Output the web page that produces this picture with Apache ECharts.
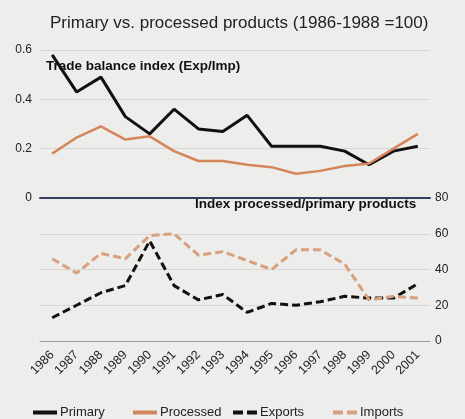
<!DOCTYPE html>
<html>
<head>
<meta charset="utf-8">
<script src="https://cdn.jsdelivr.net/npm/echarts@6/dist/echarts.min.js"></script>
<style>
  html, body { margin: 0; padding: 0; background: #ededeb; }
  #chart { width: 465px; height: 419px; }
</style>
</head>
<body>
<div id="chart"></div>
<script>
var years = ['1986','1987','1988','1989','1990','1991','1992','1993','1994','1995','1996','1997','1998','1999','2000','2001'];
// trade balance index (Exp/Imp)
var primary   = [0.58, 0.43, 0.49, 0.33, 0.26, 0.36, 0.28, 0.27, 0.335, 0.21, 0.21, 0.21, 0.19, 0.135, 0.19, 0.21];
var processed = [0.18, 0.245, 0.29, 0.237, 0.25, 0.19, 0.15, 0.15, 0.135, 0.125, 0.098, 0.11, 0.13, 0.14, 0.2, 0.26];
// index processed/primary products
var exportsIdx = [13, 20, 27, 31, 56, 31, 23, 26, 16, 21, 20, 22, 25, 24, 24, 32];
var importsIdx = [46, 38, 49, 46, 59, 60, 48, 50, 45, 40, 51, 51, 43, 23, 25, 24];

var chartDom = document.getElementById('chart');
var myChart = echarts.init(chartDom);
var font = 'Liberation Sans, Arial, sans-serif';

var solidIcon = 'path://M0,0h24v4h-24z';
var dashIcon = 'path://M0,0h10v4h-10zM14,0h10v4h-10z';

function legendAt(name, x, icon) {
  return {
    data: [{ name: name, icon: icon }],
    left: x, top: 401,
    itemWidth: 24, itemHeight: 4, itemGap: 0,
    textStyle: { fontSize: 13, color: '#222', fontFamily: font, padding: [0, 0, 0, -2] }
  };
}

var option = {
  backgroundColor: '#ededeb',
  textStyle: { fontFamily: font },
  title: {
    text: 'Primary vs. processed products (1986-1988 =100)',
    left: 45,
    top: 10,
    textStyle: { fontSize: 17, fontWeight: 'normal', color: '#222', fontFamily: font }
  },
  graphic: [
    { type: 'text', left: 46, top: 59, style: { text: 'Trade balance index (Exp/Imp)', font: 'bold 13.5px ' + font, fill: '#111' } },
    { type: 'text', left: 195, top: 197, style: { text: 'Index processed/primary products', font: 'bold 13.5px ' + font, fill: '#111' } }
  ],
  legend: [
    legendAt('Primary', 28, solidIcon),
    legendAt('Processed', 128, solidIcon),
    legendAt('Exports', 228, dashIcon),
    legendAt('Imports', 328, dashIcon)
  ],
  grid: [
    { left: 40, right: 35, top: 50, height: 148 },
    { left: 40, right: 35, top: 198, height: 143 }
  ],
  xAxis: [
    { type: 'category', gridIndex: 0, data: years, boundaryGap: true,
      axisLine: { lineStyle: { color: '#33415e', width: 2 } },
      axisTick: { show: false }, axisLabel: { show: false } },
    { type: 'category', gridIndex: 1, data: years, boundaryGap: true,
      axisLine: { lineStyle: { color: '#9a9a9a', width: 1 } },
      axisTick: { show: false },
      axisLabel: { rotate: 45, fontSize: 12.5, color: '#222', interval: 0, margin: 12 } }
  ],
  yAxis: [
    { type: 'value', gridIndex: 0, position: 'left', min: 0, max: 0.6, interval: 0.2,
      axisLine: { show: false }, axisTick: { show: false },
      axisLabel: { color: '#222', fontSize: 12, formatter: function (v) { return v === 0 ? '0' : v.toFixed(1); } },
      splitLine: { lineStyle: { color: '#d6d6d4' } } },
    { type: 'value', gridIndex: 1, position: 'right', min: 0, max: 80, interval: 20,
      axisLine: { show: false }, axisTick: { show: false },
      axisLabel: { color: '#222', fontSize: 12, margin: 5 },
      splitLine: { lineStyle: { color: '#d6d6d4' } } }
  ],
  series: [
    { name: 'Primary', type: 'line', xAxisIndex: 0, yAxisIndex: 0, data: primary,
      symbol: 'none', lineStyle: { color: '#111', width: 3 }, itemStyle: { color: '#111' } },
    { name: 'Processed', type: 'line', xAxisIndex: 0, yAxisIndex: 0, data: processed,
      symbol: 'none', lineStyle: { color: '#d4865a', width: 2.5 }, itemStyle: { color: '#d4865a' } },
    { name: 'Exports', type: 'line', xAxisIndex: 1, yAxisIndex: 1, data: exportsIdx,
      symbol: 'none', lineStyle: { color: '#111', width: 3, type: [8, 4] }, itemStyle: { color: '#111' } },
    { name: 'Imports', type: 'line', xAxisIndex: 1, yAxisIndex: 1, data: importsIdx,
      symbol: 'none', lineStyle: { color: '#d8a07e', width: 3, type: [8, 4] }, itemStyle: { color: '#d8a07e' } }
  ]
};

option && myChart.setOption(option);
</script>
</body>
</html>
